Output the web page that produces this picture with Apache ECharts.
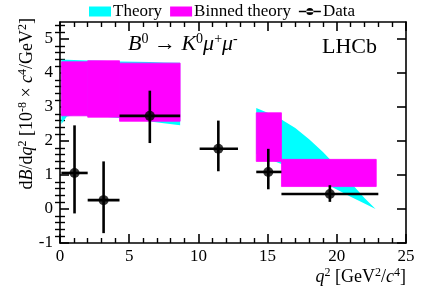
<!DOCTYPE html>
<html><head><meta charset="utf-8">
<script src="https://cdn.jsdelivr.net/npm/echarts@6/dist/echarts.min.js"></script>
<style>html,body{margin:0;padding:0;background:#fff}#c{width:427px;height:290px}</style>
</head><body><div id="c"></div>
<script>
// ---- data ----
const xTickLabels = [0, 5, 10, 15, 20, 25];
const yTickLabels = [-1, 0, 1, 2, 3, 4, 5];

// Theory band (two segments)
const theoryLowQ  = [0.1, 0.5, 1, 2, 3, 4.3, 5.5, 6.5, 7.5, 8.68];
const theoryLowLo = [2.5, 2.72, 2.76, 2.74, 2.72, 2.68, 2.62, 2.57, 2.52, 2.46];
const theoryLowHi = [4.39, 4.39, 4.38, 4.37, 4.36, 4.34, 4.33, 4.32, 4.31, 4.30];
const theoryHighQ  = [14.18, 15, 16, 17, 18, 19, 20, 21, 22, 22.8];
const theoryHighLo = [1.62, 1.48, 1.32, 1.15, 0.97, 0.78, 0.57, 0.36, 0.16, 0.0];
const theoryHighHi = [2.97, 2.83, 2.63, 2.38, 2.05, 1.68, 1.25, 0.78, 0.32, 0.0];

// Binned theory
const binLo  = [0.1, 2, 4.3, 14.18, 16];
const binHi  = [2, 4.3, 8.68, 16, 22.85];
const binMin = [2.74, 2.70, 2.58, 1.40, 0.66];
const binMax = [4.33, 4.36, 4.29, 2.83, 1.46];

// Data
const dataQ   = [1.05, 3.15, 6.49, 11.44, 15.05, 19.5];
const dataQLo = [0.1, 2, 4.3, 10.09, 14.18, 16];
const dataQHi = [2, 4.3, 8.68, 12.86, 16, 23];
const dataY   = [1.06, 0.26, 2.74, 1.77, 1.09, 0.44];
const dataYLo = [-0.13, -0.71, 1.94, 1.11, 0.58, 0.21];
const dataYHi = [2.46, 1.40, 3.48, 2.60, 1.77, 0.70];

// ---- chart ----
const FONT = 'Liberation Serif';
const yMinorVals = [];
for (let v = -1; v <= 5.5001; v += 0.2) { const r = Math.round(v * 10) / 10; if (Math.abs(r - Math.round(r)) > 1e-6) yMinorVals.push(r); }

const theoryBands = [
  theoryLowQ.map((q, i) => [q, theoryLowLo[i], theoryLowHi[i]]),
  theoryHighQ.map((q, i) => [q, theoryHighLo[i], theoryHighHi[i]])
];

const chart = echarts.init(document.getElementById('c'), null, {renderer: 'canvas'});

const baseX = {type: 'value', min: 0, max: 25, interval: 5, splitLine: {show: false}};
const baseY = {type: 'value', min: -1, max: 5.5, interval: 1, splitLine: {show: false}};
const lineStyle = {color: '#000', width: 1.6};

const sup = {fontSize: 12, fontFamily: FONT, verticalAlign: 'top', lineHeight: 12, color: '#000'};

chart.setOption({
  animation: false,
  backgroundColor: '#fff',
  grid: {left: 60, right: 21, top: 22, bottom: 47, containLabel: false},
  legend: {
    left: 89, top: 3, padding: 0, itemWidth: 22, itemHeight: 10, itemGap: 8,
    textStyle: {fontFamily: FONT, fontSize: 17, color: '#000', padding: [0, 0, 0, -3]},
    data: [
      {name: 'Theory', icon: 'rect', itemStyle: {color: '#00ffff'}},
      {name: 'Binned theory', icon: 'rect', itemStyle: {color: '#ff00ff'}},
      {name: 'Data', icon: 'path://M0,4.2 L22,4.2 L22,5.8 L0,5.8 Z M7.4,5 A3.6,3.6 0 1 0 14.6,5 A3.6,3.6 0 1 0 7.4,5 Z', itemStyle: {color: '#000'}}
    ]
  },
  xAxis: [
    Object.assign({}, baseX, {
      position: 'bottom',
      axisLine: {show: true, onZero: false, lineStyle},
      axisTick: {show: true, inside: true, length: 9, lineStyle},
      minorTick: {show: true, splitNumber: 5, length: 5, lineStyle: {color: '#000', width: 1.4}},
      axisLabel: {show: true, margin: 5, fontFamily: FONT, fontSize: 17, color: '#000'}
    }),
    Object.assign({}, baseX, {
      position: 'top',
      axisLine: {show: true, onZero: false, lineStyle},
      axisTick: {show: true, inside: true, length: 9, lineStyle},
      minorTick: {show: true, splitNumber: 5, length: 5, lineStyle: {color: '#000', width: 1.4}},
      axisLabel: {show: false}
    })
  ],
  yAxis: [
    Object.assign({}, baseY, {
      position: 'left',
      axisLine: {show: true, onZero: false, lineStyle},
      axisTick: {show: true, inside: true, length: 9, lineStyle, customValues: yTickLabels},
      axisLabel: {show: true, margin: 7, fontFamily: FONT, fontSize: 17, color: '#000', customValues: yTickLabels}
    }),
    Object.assign({}, baseY, {
      position: 'left',
      axisLine: {show: false},
      axisTick: {show: true, inside: true, length: 5, lineStyle: {color: '#000', width: 1.4}, customValues: yMinorVals},
      axisLabel: {show: false}
    }),
    Object.assign({}, baseY, {
      position: 'right',
      axisLine: {show: true, onZero: false, lineStyle},
      axisTick: {show: true, inside: true, length: 9, lineStyle, customValues: yTickLabels},
      axisLabel: {show: false}
    }),
    Object.assign({}, baseY, {
      position: 'right',
      axisLine: {show: false},
      axisTick: {show: true, inside: true, length: 5, lineStyle: {color: '#000', width: 1.4}, customValues: yMinorVals},
      axisLabel: {show: false}
    })
  ],
  series: [
    {
      name: 'Theory', type: 'custom', xAxisIndex: 0, yAxisIndex: 0,
      itemStyle: {color: '#00ffff'},
      data: theoryBands.map((b, i) => [i]),
      renderItem: function (params, api) {
        const band = theoryBands[api.value(0)];
        const pts = [];
        band.forEach(p => pts.push(api.coord([p[0], p[2]])));
        band.slice().reverse().forEach(p => pts.push(api.coord([p[0], p[1]])));
        return {type: 'polygon', shape: {points: pts}, style: {fill: '#00ffff'}};
      },
      z: 1
    },
    {
      name: 'Binned theory', type: 'custom', xAxisIndex: 0, yAxisIndex: 0,
      itemStyle: {color: '#ff00ff'},
      data: binLo.map((lo, i) => [lo, binHi[i], binMin[i], binMax[i]]),
      renderItem: function (params, api) {
        const p1 = api.coord([api.value(0), api.value(3)]);
        const p2 = api.coord([api.value(1), api.value(2)]);
        return {type: 'rect', shape: {x: p1[0], y: p1[1], width: p2[0] - p1[0], height: p2[1] - p1[1]},
                style: {fill: '#ff00ff', stroke: '#ff00ff', lineWidth: 0.8}};
      },
      z: 2
    },
    {
      name: 'Data', type: 'custom', xAxisIndex: 0, yAxisIndex: 0,
      itemStyle: {color: '#000'},
      data: dataQ.map((q, i) => [q, dataY[i], dataQLo[i], dataQHi[i], dataYLo[i], dataYHi[i]]),
      renderItem: function (params, api) {
        const c = api.coord([api.value(0), api.value(1)]);
        const l = api.coord([api.value(2), api.value(1)]);
        const r = api.coord([api.value(3), api.value(1)]);
        const lo = api.coord([api.value(0), api.value(4)]);
        const hi = api.coord([api.value(0), api.value(5)]);
        const st = {stroke: '#000', lineWidth: 2.6};
        return {type: 'group', children: [
          {type: 'line', shape: {x1: l[0], y1: l[1], x2: r[0], y2: r[1]}, style: st},
          {type: 'line', shape: {x1: c[0], y1: lo[1], x2: c[0], y2: hi[1]}, style: st}
        ]};
      },
      z: 3
    },
    {
      name: 'Data', type: 'scatter', xAxisIndex: 0, yAxisIndex: 0,
      symbol: 'circle', symbolSize: 10, itemStyle: {color: '#000'},
      data: dataQ.map((q, i) => [q, dataY[i]]),
      z: 4
    }
  ],
  graphic: [
    {
      type: 'text', left: 128, top: 32, z: 10,
      style: {
        text: '{i|B}{s|0}{n| → }{i|K}{s|0}{i|μ}{s|+}{i|μ}{s|-}',
        rich: {
          i: {fontSize: 22, fontFamily: FONT, fontStyle: 'italic', lineHeight: 24, color: '#000'},
          n: {fontSize: 22, fontFamily: FONT, lineHeight: 24, color: '#000'},
          s: {fontSize: 14, fontFamily: FONT, verticalAlign: 'top', lineHeight: 14, color: '#000'}
        }
      }
    },
    {
      type: 'text', left: 322, top: 36, z: 10,
      style: {text: 'LHCb', fontSize: 22, fontFamily: FONT, fill: '#000'}
    },
    {
      type: 'text', z: 10, x: 406, y: 277,
      style: {
        text: '{i|q}{s|2}{n| [GeV}{s|2}{n|/}{i|c}{s|4}{n|]}',
        align: 'right', verticalAlign: 'middle',
        rich: {
          i: {fontSize: 18, fontFamily: FONT, fontStyle: 'italic', lineHeight: 20, color: '#000'},
          n: {fontSize: 18, fontFamily: FONT, lineHeight: 20, color: '#000'},
          s: sup
        }
      }
    },
    {
      type: 'text', z: 10, x: 27, y: 18, rotation: Math.PI / 2,
      style: {
        text: '{n|d}{i|B}{n|/d}{i|q}{s|2}{n| [10}{s|-8}{n| × }{i|c}{s|4}{n|/GeV}{s|2}{n|]}',
        align: 'right', verticalAlign: 'middle',
        rich: {
          i: {fontSize: 18, fontFamily: FONT, fontStyle: 'italic', lineHeight: 20, color: '#000'},
          n: {fontSize: 18, fontFamily: FONT, lineHeight: 20, color: '#000'},
          s: sup
        }
      }
    }
  ]
});
</script>
</body></html>
